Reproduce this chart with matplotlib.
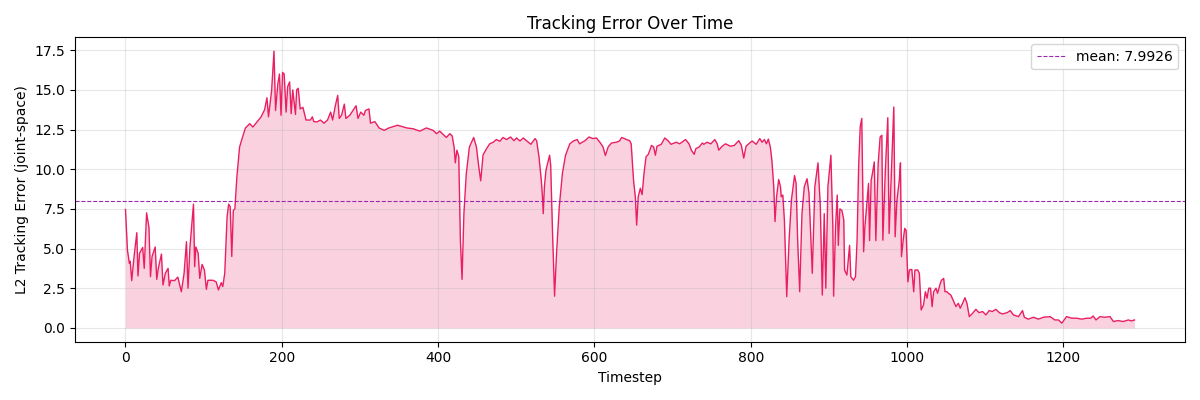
"""Tracking error over time, with its mean as a dashed reference line."""

import numpy as np
import matplotlib
matplotlib.use("Agg")
import matplotlib.pyplot as plt

# values (timestep, L2 error)
timesteps = [
    0, 2.5, 5, 6, 8, 11, 14.5, 16, 18, 22, 24, 27, 30, 32, 34, 38, 40, 42, 46, 48,
    51, 54.5, 56, 58, 63, 65, 67, 71.5, 75, 78, 80, 82.5, 87, 88.5, 90, 93, 95, 98,
    101, 103.5, 105.5, 112, 116, 119, 122.5, 124.5, 127, 130, 132, 134, 136, 138,
    140, 142.5, 146, 149, 153.5, 159, 163, 167, 173.5, 178, 181, 183, 187, 190, 192,
    195, 197, 199, 201, 203, 205.5, 207.5, 210, 212, 214, 217.5, 219, 221, 223.5,
    227, 231, 236.6, 239, 241, 245, 249.5, 254, 258.5, 262.5, 265, 268.5, 271.5,
    273.5, 276.5, 280, 282, 287, 291, 295, 297.5, 301, 305, 307, 311.5, 313.5, 319,
    324.5, 331, 337, 348, 360, 368, 376.6, 385, 393.6, 398, 402, 410.6, 415, 418,
    420.4, 422, 424, 426.4, 428.5, 430.6, 433, 436, 440, 445.5, 449, 452, 454.5,
    457.5, 462, 466, 470.5, 474.5, 479, 483, 487.5, 492.6, 497, 500.4, 504.7, 509,
    513, 518.7, 524, 526, 529, 532, 533.5, 534.5, 536, 538, 542.6, 544, 546.4, 549,
    551.5, 555, 559, 563, 568.5, 573, 578, 581, 588, 593, 598, 602.6, 607.7, 611,
    614, 617.5, 621.7, 628, 632, 635, 641, 645, 647, 650, 652.3, 654, 656, 658.7,
    661, 663.4, 666, 669, 673, 675.7, 678, 680, 685.5, 690, 694, 698, 704.7, 709,
    716.6, 721, 724, 727.6, 729.8, 734, 738, 740, 744, 749, 754, 757, 759, 763.4,
    767.7, 774, 779, 784.7, 788, 791, 794, 797.4, 801.7, 807, 811.5, 814.5, 817.4,
    820, 822.5, 825, 827, 829.4, 831, 833, 835.7, 838, 839, 841, 843, 846, 849, 852,
    856, 858, 860, 862.6, 865.5, 868.5, 872, 874.5, 878.7, 882, 886, 889, 891.5,
    894, 896, 898.7, 902.5, 905, 906, 908.5, 910.6, 912, 914, 916.6, 919, 920, 923,
    924.7, 926.4, 928, 931.5, 934, 936, 938, 940, 942, 944.4, 946, 948, 950.6, 952,
    954, 956, 958, 960, 963, 965.5, 967.7, 969, 972, 975.3, 977, 980.4, 983, 984.7,
    987, 990, 991.5, 992.8, 995, 997, 998.7, 1001, 1003, 1006, 1008.5, 1010,
    1013.6, 1015.7, 1018, 1021, 1023.4, 1025.5, 1027.7, 1030, 1032, 1034, 1037,
    1039, 1042.5, 1044, 1046.8, 1048.5, 1051, 1052.8, 1056, 1059.6, 1062.5, 1065.5,
    1068, 1071, 1074, 1076.6, 1079.6, 1083.8, 1088, 1092, 1096.6, 1100.8, 1105,
    1109, 1113.6, 1118, 1122, 1128, 1132, 1136, 1142.5, 1147.7, 1150, 1155, 1161.7,
    1168, 1174.5, 1183, 1189, 1193.6, 1198, 1204, 1210.6, 1217, 1223.4, 1230, 1235,
    1238, 1241.7, 1246.8, 1253, 1259.6, 1264, 1270, 1276.6, 1283, 1287, 1291,
]
errors = [
    7.46, 4.9, 4.07, 4.2, 2.98, 4.5, 6.0, 3.27, 4.7, 5.07, 3.75, 7.25, 6.33, 3.23,
    4.5, 5.1, 3.06, 3.75, 4.65, 2.7, 3.44, 3.75, 2.64, 3.0, 2.98, 3.1, 3.2, 2.28,
    3.44, 5.43, 2.5, 5.1, 7.8, 3.86, 5.1, 4.7, 3.12, 4.0, 3.65, 2.43, 3.0, 3.0, 2.9,
    2.39, 2.85, 2.6, 3.44, 7.0, 7.8, 7.63, 4.5, 7.4, 7.5, 9.5, 11.4, 11.9, 12.6,
    12.87, 12.66, 12.9, 13.3, 13.75, 14.5, 13.3, 14.97, 17.44, 13.7, 15.4, 16.0,
    13.4, 16.1, 16.0, 13.6, 15.2, 15.5, 13.5, 15.0, 13.45, 15.0, 15.1, 13.8, 13.9,
    13.1, 13.1, 13.3, 13.0, 12.98, 13.1, 12.9, 13.1, 13.6, 13.1, 14.0, 14.65, 13.2,
    13.4, 14.1, 13.2, 13.4, 13.7, 14.0, 13.2, 13.6, 13.4, 13.7, 13.8, 12.9, 13.0,
    12.6, 12.45, 12.6, 12.77, 12.6, 12.55, 12.4, 12.6, 12.45, 12.24, 12.4, 12.0,
    12.24, 12.1, 11.4, 10.4, 11.2, 10.8, 5.5, 3.06, 7.2, 9.7, 11.4, 12.0, 11.4,
    10.15, 9.27, 10.9, 11.3, 11.6, 11.7, 11.87, 11.76, 12.0, 11.87, 12.03, 11.8,
    11.97, 11.78, 11.97, 11.8, 11.57, 11.93, 11.8, 10.8, 9.3, 8.26, 7.2, 8.9, 9.94,
    10.88, 10.25, 5.95, 2.0, 4.7, 7.63, 9.73, 10.88, 11.6, 11.78, 11.87, 11.6, 11.8,
    12.03, 11.93, 11.97, 11.65, 11.4, 10.86, 11.4, 11.65, 11.7, 11.78, 12.0, 11.87,
    11.8, 11.6, 9.3, 8.26, 6.48, 8.26, 8.8, 8.4, 9.73, 10.78, 10.94, 11.5, 11.4,
    10.88, 11.45, 11.57, 11.97, 11.8, 11.57, 11.7, 11.6, 11.87, 11.6, 11.2, 10.94,
    11.3, 11.4, 11.65, 11.57, 11.7, 11.6, 11.87, 11.6, 11.2, 11.45, 11.6, 11.45,
    11.5, 11.8, 11.5, 10.7, 11.45, 11.6, 11.78, 11.57, 11.93, 11.7, 11.87, 11.6,
    11.9, 11.4, 10.57, 8.9, 6.7, 8.26, 9.35, 8.9, 8.26, 8.37, 6.8, 1.97, 5.5, 8.05,
    9.6, 9.1, 5.5, 2.28, 7.2, 8.9, 9.4, 8.47, 3.44, 8.9, 10.4, 7.63, 2.07, 7.2, 2.5,
    8.9, 10.88, 6.37, 2.0, 6.37, 8.37, 5.2, 7.5, 7.4, 6.8, 3.65, 3.33, 4.28, 5.2,
    3.23, 3.0, 3.23, 5.5, 10.15, 12.66, 13.2, 4.8, 6.37, 7.5, 9.1, 5.5, 9.3, 9.83,
    10.46, 5.5, 10.36, 12.03, 12.14, 5.53, 9.73, 13.25, 5.95, 10.57, 13.92, 5.74,
    8.05, 9.3, 10.4, 4.49, 5.53, 6.27, 6.16, 2.9, 3.65, 3.69, 2.28, 3.65, 3.65,
    3.44, 1.13, 1.45, 2.28, 1.87, 2.5, 2.5, 1.34, 2.28, 2.5, 2.18, 2.81, 3.0, 3.12,
    2.28, 2.28, 2.18, 2.07, 1.66, 1.34, 1.55, 1.24, 1.55, 1.9, 1.55, 0.71, 0.92,
    1.17, 0.96, 1.03, 0.82, 1.09, 1.03, 1.17, 0.96, 0.88, 0.96, 1.09, 0.82, 0.71,
    1.09, 0.67, 0.55, 0.67, 0.55, 0.67, 0.71, 0.5, 0.5, 0.3, 0.71, 0.61, 0.61, 0.55,
    0.61, 0.61, 0.75, 0.5, 0.71, 0.67, 0.71, 0.4, 0.46, 0.4, 0.5, 0.44, 0.5,
]
MEAN_ERROR = 7.9926  # from the legend label


def main():
    t = np.asarray(timesteps, dtype=float)
    err = np.asarray(errors, dtype=float)

    fig, ax = plt.subplots(figsize=(12, 4), dpi=100)
    ax.plot(t, err, color="#e91e63", lw=1.0)
    ax.fill_between(t, 0, err, color="#e91e63", alpha=0.2, lw=0)
    ax.axhline(MEAN_ERROR, color="#9c27b0", ls="--", lw=0.8,
               label=f"mean: {MEAN_ERROR:.4f}")
    ax.set_title("Tracking Error Over Time")
    ax.set_xlabel("Timestep")
    ax.set_ylabel("L2 Tracking Error (joint-space)")
    ax.grid(True, alpha=0.3)
    ax.legend(loc="upper right")
    fig.tight_layout()
    fig.savefig("out.png", dpi=100)


if __name__ == "__main__":
    main()
